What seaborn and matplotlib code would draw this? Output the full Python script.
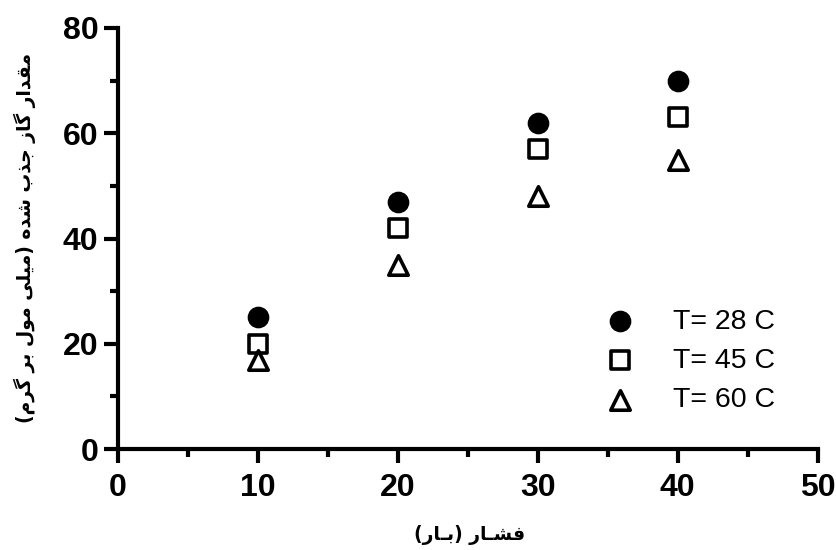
import numpy as np
import pandas as pd
import matplotlib
matplotlib.use("Agg")
import matplotlib.pyplot as plt
import seaborn as sns
from matplotlib.ticker import MultipleLocator

pressure = [10, 20, 30, 40]
t28 = [25, 47, 62, 70]
t45 = [20, 42, 57, 63]
t60 = [17, 35, 48, 55]
series_labels = ["T= 28 C", "T= 45 C", "T= 60 C"]
xlabel_fa = "فشـار (بـار)"
ylabel_fa = "مقدار گاز جذب شده (میلی مول بر گرم)"

# --- minimal Arabic/Persian shaping (presentation forms) ---
FORMS = {
    'ا': ('\uFE8D', '\uFE8E', None, None),
    'ب': ('\uFE8F', '\uFE90', '\uFE91', '\uFE92'),
    'ج': ('\uFE9D', '\uFE9E', '\uFE9F', '\uFEA0'),
    'د': ('\uFEA9', '\uFEAA', None, None),
    'ذ': ('\uFEAB', '\uFEAC', None, None),
    'ر': ('\uFEAD', '\uFEAE', None, None),
    'ز': ('\uFEAF', '\uFEB0', None, None),
    'ش': ('\uFEB5', '\uFEB6', '\uFEB7', '\uFEB8'),
    'ف': ('\uFED1', '\uFED2', '\uFED3', '\uFED4'),
    'ق': ('\uFED5', '\uFED6', '\uFED7', '\uFED8'),
    'گ': ('\uFB92', '\uFB93', '\uFB94', '\uFB95'),
    'ل': ('\uFEDD', '\uFEDE', '\uFEDF', '\uFEE0'),
    'م': ('\uFEE1', '\uFEE2', '\uFEE3', '\uFEE4'),
    'ه': ('\uFEE9', '\uFEEA', '\uFEEB', '\uFEEC'),
    'و': ('\uFEED', '\uFEEE', None, None),
    'ی': ('\uFBFC', '\uFBFD', '\uFBFE', '\uFBFF'),
}
TATWEEL = '\u0640'


def _dual(c):
    return c == TATWEEL or (c in FORMS and FORMS[c][2] is not None)


def _joining(c):
    return c == TATWEEL or c in FORMS


def shape(text):
    out = []
    n = len(text)
    for i, c in enumerate(text):
        if c not in FORMS:
            out.append(c)
            continue
        prev = text[i - 1] if i > 0 else ''
        nxt = text[i + 1] if i + 1 < n else ''
        cp = bool(prev) and _dual(prev)
        cn = _dual(c) and bool(nxt) and _joining(nxt)
        iso, fin, ini, med = FORMS[c]
        if cp and cn:
            out.append(med)
        elif cp:
            out.append(fin)
        elif cn:
            out.append(ini)
        else:
            out.append(iso)
    vis = ''.join(reversed(out))
    vis = vis.translate(str.maketrans({'(': ')', ')': '('}))
    return vis


sns.set_theme(style="ticks")
plt.rcParams['font.family'] = ['Liberation Sans', 'DejaVu Sans']
plt.rcParams['text.color'] = 'black'
plt.rcParams['xtick.color'] = 'black'
plt.rcParams['ytick.color'] = 'black'
plt.rcParams['axes.labelcolor'] = 'black'

fig = plt.figure(figsize=(8.37, 5.5), dpi=100)
ax = fig.add_axes([0.141, 0.1836, 0.836, 0.7655])

specs = [
    (t28, series_labels[0], 'o', 'black', 13),
    (t45, series_labels[1], 's', 'white', 12.5),
    (t60, series_labels[2], '^', 'white', 14),
]
for vals, lab, mk, fc, ms in specs:
    df = pd.DataFrame({"x": pressure, "y": vals})
    sns.scatterplot(data=df, x="x", y="y", ax=ax, marker=mk, s=ms ** 2,
                    facecolor=fc, edgecolor='black', linewidth=2.6,
                    label=lab, zorder=3)

ax.set_xlim(0, 50)
ax.set_ylim(0, 80)
ax.xaxis.set_major_locator(MultipleLocator(10))
ax.xaxis.set_minor_locator(MultipleLocator(5))
ax.yaxis.set_major_locator(MultipleLocator(20))
ax.yaxis.set_minor_locator(MultipleLocator(10))
sns.despine(ax=ax)
for s in ['left', 'bottom']:
    ax.spines[s].set_linewidth(3)
    ax.spines[s].set_color('black')
ax.tick_params(which='major', length=10, width=3, color='black',
               labelsize=23, labelcolor='black')
ax.tick_params(axis='x', which='major', pad=7)
ax.tick_params(axis='y', which='major', pad=4)
ax.tick_params(which='minor', length=6, width=3, color='black')
for lbl in ax.get_xticklabels() + ax.get_yticklabels():
    lbl.set_fontweight('bold')
    lbl.set_family(['Liberation Sans', 'DejaVu Sans'])

ax.set_xlabel('')
ax.set_ylabel('')
fig.text(0.561, 0.027, shape(xlabel_fa), ha='center', va='center',
         fontsize=13.5, fontweight='bold', family=['DejaVu Sans'], color='black')
fig.text(0.030, 0.567, shape(ylabel_fa), ha='center', va='center',
         rotation=90, fontsize=13.5, fontweight='bold', family=['DejaVu Sans'],
         color='black')

leg = ax.legend(loc='upper left', bbox_to_anchor=(0.661, 0.36), frameon=False,
                fontsize=20.5, handletextpad=0.85, labelspacing=0.46,
                borderaxespad=0)
for t in leg.get_texts():
    t.set_color('black')

fig.savefig("out.png", dpi=100)
